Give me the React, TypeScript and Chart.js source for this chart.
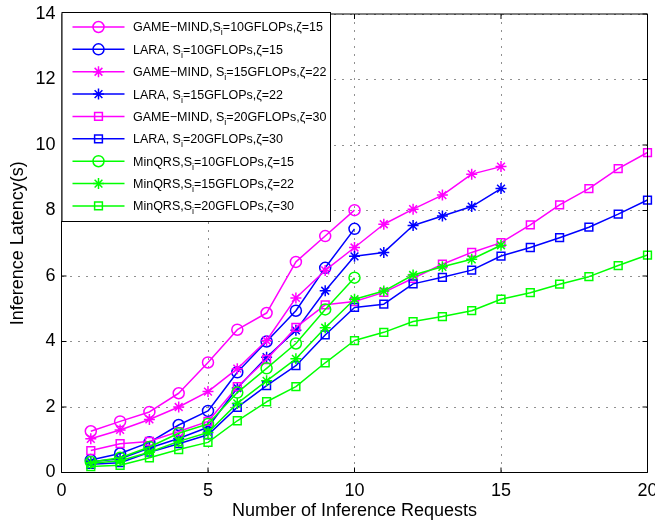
import React, { useEffect, useRef } from 'react';
import { Chart, registerables } from 'chart.js';
import { drawPoint } from 'chart.js/helpers';

Chart.register(...registerables);

// ---------- data ----------
const requests = [1, 2, 3, 4, 5, 6, 7, 8, 9, 10, 11, 12, 13, 14, 15, 16, 17, 18, 19, 20];
const xTickValues = [0, 5, 10, 15, 20];
const yTickValues = [0, 2, 4, 6, 8, 10, 12, 14];

const seriesLabels = [
  'GAME\u2212MIND,S_i=10GFLOPs,\u03b6=15',
  'LARA, S_i=10GFLOPs,\u03b6=15',
  'GAME\u2212MIND, S_i=15GFLOPs,\u03b6=22',
  'LARA, S_i=15GFLOPs,\u03b6=22',
  'GAME\u2212MIND, S_i=20GFLOPs,\u03b6=30',
  'LARA, S_i=20GFLOPs,\u03b6=30',
  'MinQRS,S_i=10GFLOPs,\u03b6=15',
  'MinQRS,S_i=15GFLOPs,\u03b6=22',
  'MinQRS,S_i=20GFLOPs,\u03b6=30',
];

const gameMind10 = [1.26, 1.56, 1.85, 2.42, 3.36, 4.36, 4.87, 6.43, 7.22, 8.01];
const lara10 = [0.38, 0.58, 0.92, 1.45, 1.88, 3.06, 4.0, 4.94, 6.25, 7.44];
const gameMind15 = [1.03, 1.3, 1.62, 2.0, 2.47, 3.17, 4.03, 5.33, 6.17, 6.87, 7.58, 8.04, 8.47, 9.11, 9.34];
const lara15 = [0.33, 0.42, 0.75, 1.04, 1.38, 2.58, 3.52, 4.34, 5.55, 6.6, 6.72, 7.54, 7.83, 8.12, 8.67];
const gameMind20 = [0.67, 0.88, 0.95, 1.25, 1.56, 2.62, 3.45, 4.43, 5.12, 5.22, 5.5, 5.93, 6.36, 6.72, 7.02, 7.56, 8.17, 8.67, 9.28, 9.77];
const lara20 = [0.25, 0.3, 0.62, 0.88, 1.15, 1.99, 2.65, 3.26, 4.2, 5.04, 5.14, 5.76, 5.96, 6.18, 6.61, 6.87, 7.17, 7.49, 7.89, 8.32];
const minqrs10 = [0.32, 0.45, 0.78, 1.2, 1.48, 2.44, 3.18, 3.94, 4.98, 5.95];
const minqrs15 = [0.28, 0.36, 0.62, 0.95, 1.22, 2.11, 2.8, 3.47, 4.42, 5.29, 5.54, 6.03, 6.28, 6.51, 6.94];
const minqrs20 = [0.18, 0.22, 0.45, 0.7, 0.92, 1.58, 2.16, 2.62, 3.35, 4.03, 4.28, 4.61, 4.76, 4.94, 5.29, 5.49, 5.75, 5.98, 6.32, 6.64];

const seriesValues = [gameMind10, lara10, gameMind15, lara15, gameMind20, lara20, minqrs10, minqrs15, minqrs20];

// ---------- styles ----------
const MAGENTA = '#ff00ff';
const BLUE = '#0000ff';
const GREEN = '#00ff00';
const seriesColors = [MAGENTA, BLUE, MAGENTA, BLUE, MAGENTA, BLUE, GREEN, GREEN, GREEN];
const seriesMarkers = ['circle', 'circle', 'star', 'star', 'rect', 'rect', 'circle', 'star', 'rect'];
const markerRadius: Record<string, number> = { circle: 5.5, star: 5.5, rect: 5.5 };

const FONT = "'Liberation Sans', Arial, Helvetica, sans-serif";

const frameAndLegend = {
  id: 'frameAndLegend',
  afterDatasetsDraw(chart: any) {
    const { ctx, chartArea } = chart;
    const { left, right, top, bottom } = chartArea;
    const xs = chart.scales.x;
    const ys = chart.scales.y;
    ctx.save();
    ctx.strokeStyle = '#000';
    ctx.lineWidth = 1;
    ctx.beginPath();
    ctx.rect(left, top, right - left, bottom - top);
    ctx.stroke();
    const tl = 5;
    ctx.beginPath();
    xTickValues.forEach((v) => {
      const px = xs.getPixelForValue(v);
      ctx.moveTo(px, bottom);
      ctx.lineTo(px, bottom - tl);
      ctx.moveTo(px, top);
      ctx.lineTo(px, top + tl);
    });
    yTickValues.forEach((v) => {
      const py = ys.getPixelForValue(v);
      ctx.moveTo(left, py);
      ctx.lineTo(left + tl, py);
      ctx.moveTo(right, py);
      ctx.lineTo(right - tl, py);
    });
    ctx.stroke();
    ctx.restore();
  },
  afterDraw(chart: any) {
    const { ctx, chartArea } = chart;
    const boxL = chartArea.left;
    const boxT = chartArea.top - 2;
    const boxW = 268.5;
    const boxH = 209;
    ctx.save();
    ctx.fillStyle = '#fff';
    ctx.fillRect(boxL, boxT, boxW, boxH);
    ctx.strokeStyle = '#000';
    ctx.lineWidth = 1;
    ctx.strokeRect(boxL + 0.5, boxT + 0.5, boxW, boxH);
    chart.data.datasets.forEach((ds: any, i: number) => {
      const y = boxT + 15 + i * 22.37;
      ctx.strokeStyle = ds.borderColor;
      ctx.lineWidth = 1.5;
      ctx.beginPath();
      ctx.moveTo(boxL + 11, y);
      ctx.lineTo(boxL + 63, y);
      ctx.stroke();
      ctx.fillStyle = 'rgba(0,0,0,0)';
      drawPoint(ctx, { pointStyle: ds.pointStyle, rotation: 0, radius: ds.pointRadius, borderWidth: 1.5 }, boxL + 37, y);
      const parts = String(ds.label).split('_i');
      ctx.fillStyle = '#000';
      ctx.textBaseline = 'alphabetic';
      ctx.textAlign = 'left';
      let tx = boxL + 71.5;
      const base = y + 4.4;
      ctx.font = `12.5px ${FONT}`;
      ctx.fillText(parts[0], tx, base);
      tx += ctx.measureText(parts[0]).width;
      if (parts.length > 1) {
        ctx.font = `9px ${FONT}`;
        ctx.fillText('i', tx, base + 4);
        tx += ctx.measureText('i').width;
        ctx.font = `12.5px ${FONT}`;
        ctx.fillText(parts[1], tx, base);
      }
    });
    ctx.restore();
  },
};

export default function App() {
  const canvasRef = useRef<HTMLCanvasElement | null>(null);

  useEffect(() => {
    document.body.style.margin = '0';
    const canvas = canvasRef.current;
    if (!canvas) return;
    const datasets = seriesValues.map((vals, i) => ({
      label: seriesLabels[i],
      data: vals.map((v, j) => ({ x: requests[j], y: v })),
      borderColor: seriesColors[i],
      backgroundColor: 'rgba(0,0,0,0)',
      borderWidth: 1.5,
      pointStyle: seriesMarkers[i],
      pointRadius: markerRadius[seriesMarkers[i]],
      pointBorderWidth: 1.5,
      pointBorderColor: seriesColors[i],
      pointBackgroundColor: 'rgba(0,0,0,0)',
      fill: false,
      tension: 0,
      clip: false as any,
      order: seriesValues.length - i,
    }));

    const tickFont = { family: FONT, size: 18 };
    const chart = new Chart(canvas, {
      type: 'line',
      data: { datasets },
      plugins: [frameAndLegend],
      options: {
        animation: false,
        responsive: false,
        maintainAspectRatio: false,
        layout: { padding: { top: 14, right: 7.5, left: 0, bottom: 0 } },
        plugins: { legend: { display: false }, tooltip: { enabled: false } },
        elements: { line: { borderJoinStyle: 'round' } },
        scales: {
          x: {
            type: 'linear',
            min: 0,
            max: 20,
            afterBuildTicks: (s: any) => {
              s.ticks = xTickValues.map((v) => ({ value: v }));
            },
            afterFit: (s: any) => {
              s.height = 50.5;
              s.paddingLeft = 0;
              s.paddingRight = 0;
            },
            ticks: { font: tickFont, color: '#000', padding: 8, maxRotation: 0, autoSkip: false },
            grid: { color: '#909090', lineWidth: 1, drawTicks: false },
            border: { display: false, dash: [2, 6] },
            title: {
              display: true,
              text: 'Number of Inference Requests',
              font: { family: FONT, size: 18 },
              color: '#000',
              padding: { top: 0, bottom: 1 },
            },
          },
          y: {
            type: 'linear',
            min: 0,
            max: 14,
            afterBuildTicks: (s: any) => {
              s.ticks = yTickValues.map((v) => ({ value: v }));
            },
            afterFit: (s: any) => {
              s.width = 61.5;
              s.paddingTop = 0;
              s.paddingBottom = 0;
            },
            ticks: { font: tickFont, color: '#000', padding: 6, autoSkip: false },
            grid: { color: '#909090', lineWidth: 1, drawTicks: false },
            border: { display: false, dash: [2, 6] },
            title: {
              display: true,
              text: 'Inference Latency(s)',
              font: { family: FONT, size: 18 },
              color: '#000',
              padding: { top: 7, bottom: 0 },
            },
          },
        },
      } as any,
    });
    return () => chart.destroy();
  }, []);

  return (
    <div style={{ position: 'absolute', left: 0, top: 0, width: 655, height: 523, background: '#fff' }}>
      <canvas ref={canvasRef} width={655} height={523} style={{ display: 'block', width: 655, height: 523 }} />
    </div>
  );
}
